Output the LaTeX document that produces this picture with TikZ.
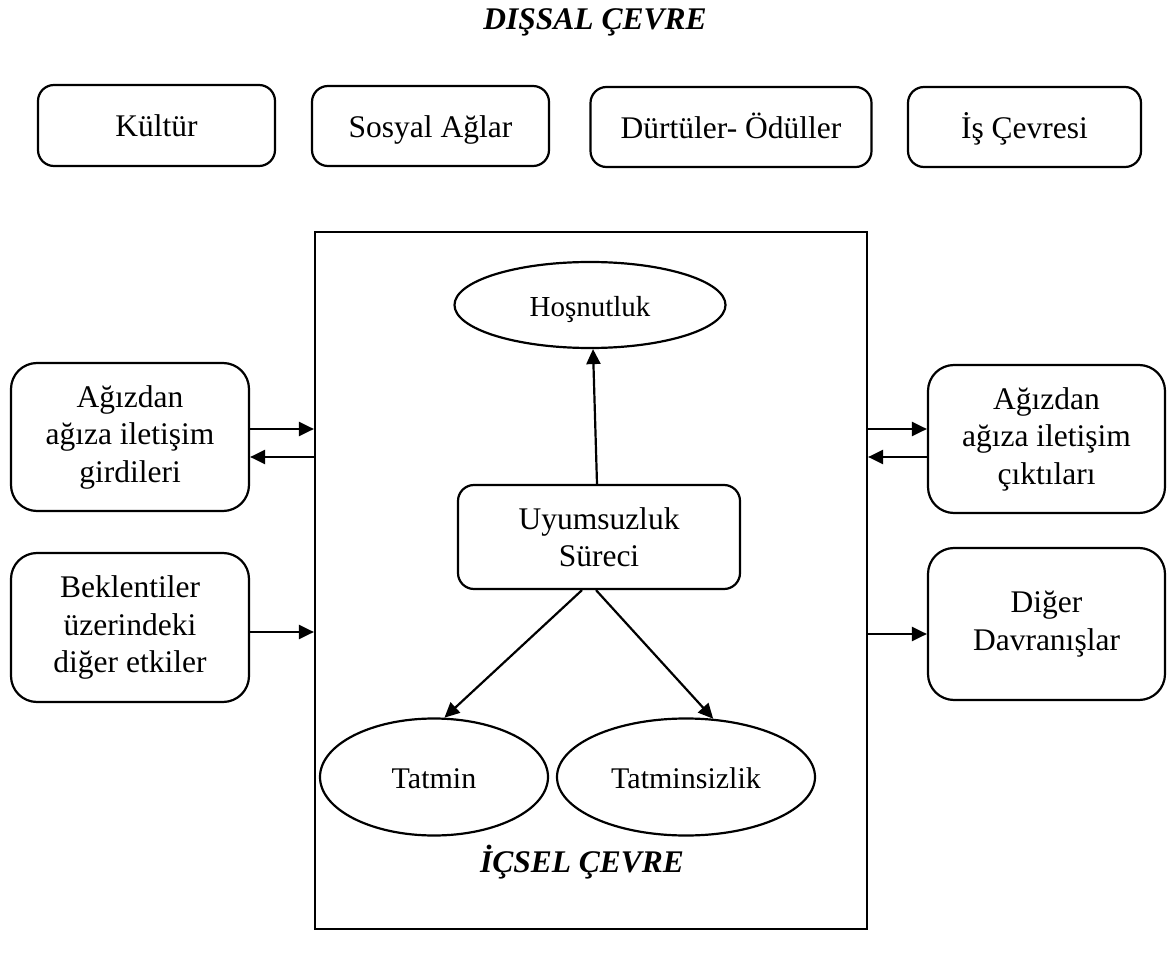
\documentclass[tikz,border=0pt]{standalone}
\usepackage{fontspec}
\setmainfont{Liberation Serif}
\usetikzlibrary{shapes.geometric,arrows.meta}

\begin{document}
\begin{tikzpicture}[x=1pt,y=-1pt,
  every node/.style={font=\fontsize{31.5}{37.5}\selectfont},
  oneline/.style={text height=23pt,text depth=0pt},
  rbox/.style={draw,line width=2.2pt,rounded corners=16pt,align=center,inner sep=0pt},
  sidebox/.style={rbox,rounded corners=26pt},
  oval/.style={draw,ellipse,line width=2.2pt,inner sep=0pt,oneline},
  frame/.style={draw,line width=2.2pt,inner sep=0pt},
  link/.style={line width=2.2pt,-{Triangle[length=15pt,width=14pt]}},
  heading/.style={font=\fontsize{31.5}{37}\selectfont\bfseries\itshape}
]
\useasboundingbox (0,0) rectangle (1170,957);

% external environment
\node[heading] (ext) at (595,22) {DIŞSAL ÇEVRE};
\node[rbox,oneline,minimum width=237,minimum height=81] (kul) at (156.5,125.5) {Kültür};
\node[rbox,oneline,minimum width=237,minimum height=80] (sos) at (430.5,126) {Sosyal Ağlar};
\node[rbox,oneline,minimum width=281,minimum height=80] (dur) at (731,127) {Dürtüler- Ödüller};
\node[rbox,oneline,minimum width=233,minimum height=80] (isc) at (1024.5,127) {İş Çevresi};

% internal environment frame
\node[frame,minimum width=552,minimum height=697] (env) at (591,580.5) {};
\node[heading] (int) at (582,862) {İÇSEL ÇEVRE};

% inside the frame
\node[oval,minimum width=271,minimum height=86,font=\fontsize{29}{35}\selectfont] (hos) at (590,305) {Hoşnutluk};
\node[rbox,minimum width=282,minimum height=104] (uy) at (599,537) {Uyumsuzluk\\Süreci};
\node[oval,minimum width=228,minimum height=117,font=\fontsize{30}{36}\selectfont] (tat) at (434,777) {Tatmin};
\node[oval,minimum width=258,minimum height=117,font=\fontsize{30}{36}\selectfont] (tsz) at (686,777) {Tatminsizlik};

% side boxes
\node[sidebox,minimum width=238,minimum height=148] (lin) at (130,437) {Ağızdan\\ağıza iletişim\\girdileri};
\node[sidebox,minimum width=238,minimum height=149] (lexp) at (130,627.5) {Beklentiler\\üzerindeki\\diğer etkiler};
\node[sidebox,minimum width=237,minimum height=148] (rout) at (1046.5,439) {Ağızdan\\ağıza iletişim\\çıktıları};
\node[sidebox,minimum width=237,minimum height=152] (roth) at (1046.5,624) {Diğer\\Davranışlar};

% arrow levels
\coordinate (ya) at (0,429);
\coordinate (yb) at (0,457);
\coordinate (yc) at (0,632);
\coordinate (yd) at (0,634);

\draw[link] (lin.east |- ya) -- (env.west |- ya);
\draw[link] (env.west |- yb) -- (lin.east |- yb);
\draw[link] (lexp.east |- yc) -- (env.west |- yc);
\draw[link] (env.east |- ya) -- (rout.west |- ya);
\draw[link] (rout.west |- yb) -- (env.east |- yb);
\draw[link] (env.east |- yd) -- (roth.west |- yd);

\draw[link] ([xshift=-2pt]uy.north) -- ([xshift=3pt]hos.south);
\draw[link] ([xshift=-17pt]uy.south) -- (tat.80);
\draw[link] ([xshift=-3pt]uy.south) -- (tsz.65);
\end{tikzpicture}
\end{document}
